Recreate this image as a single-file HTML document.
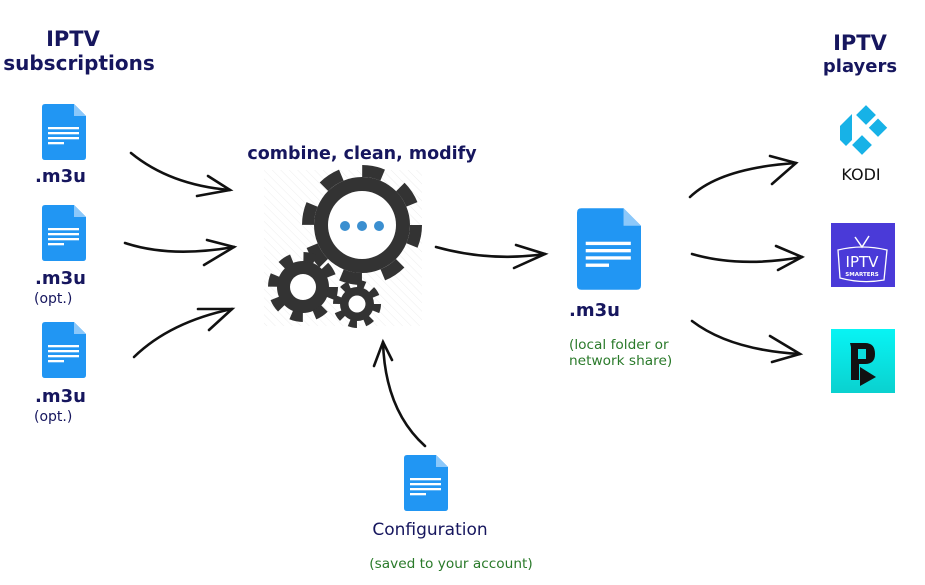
<!DOCTYPE html>
<html><head><meta charset="utf-8"><style>
body{margin:0;background:#fff;width:925px;height:585px;overflow:hidden}
svg{display:block}
.t{font-family:"DejaVu Sans",sans-serif;font-weight:bold;fill:#16165e}
.s{font-family:"DejaVu Sans",sans-serif;fill:#16165e;font-size:14px}
.g{font-family:"DejaVu Sans",sans-serif;fill:#2a7a2a;font-size:13.7px}
.ar{fill:none;stroke:#111;stroke-width:2.6;stroke-linecap:round}
</style></head><body>
<svg width="925" height="585" viewBox="0 0 925 585">
<defs>
<symbol id="doc" viewBox="0 0 44 56">
<path d="M3 0H32L44 12V53Q44 56 41 56H3Q0 56 0 53V3Q0 0 3 0Z" fill="#2196f3"/>
<path d="M32 0V12H44Z" fill="#8cc8fa"/>
<rect x="6" y="23" width="31" height="2.3" fill="#fff"/>
<rect x="6" y="28" width="31" height="2.3" fill="#fff"/>
<rect x="6" y="33" width="31" height="2.3" fill="#fff"/>
<rect x="6" y="38" width="16" height="2.3" fill="#fff"/>
</symbol>
<pattern id="hatch" width="6" height="6" patternUnits="userSpaceOnUse" patternTransform="rotate(-45)">
<line x1="0" y1="0" x2="0" y2="6" stroke="#eee" stroke-width="1"/></pattern>
<linearGradient id="cy" x1="0" y1="0" x2="0" y2="1"><stop offset="0" stop-color="#08f4f4"/><stop offset="1" stop-color="#0ad1cf"/></linearGradient>
</defs>

<text class="t" x="73" y="46" font-size="21" text-anchor="middle">IPTV</text>
<text class="t" x="79" y="70" font-size="20" text-anchor="middle">subscriptions</text>
<text class="t" x="860" y="50" font-size="21" text-anchor="middle">IPTV</text>
<text class="t" x="860" y="72" font-size="18" text-anchor="middle">players</text>

<use href="#doc" x="42" y="104" width="44" height="56"/>
<text class="t" x="35" y="182" font-size="18">.m3u</text>
<use href="#doc" x="42" y="205" width="44" height="56"/>
<text class="t" x="35" y="284" font-size="18">.m3u</text>
<text class="s" x="34" y="303">(opt.)</text>
<use href="#doc" x="42" y="322" width="44" height="56"/>
<text class="t" x="35" y="402" font-size="18">.m3u</text>
<text class="s" x="34" y="421">(opt.)</text>

<path class="ar" d="M131 153 Q170 185 230 190"/><path class="ar" d="M208 176 L230 190 L197 196"/>
<path class="ar" d="M125 243 Q170 258 234 247"/><path class="ar" d="M207 240 L234 247 L204 265"/>
<path class="ar" d="M134 357 Q170 322 232 309"/><path class="ar" d="M198 309 L232 309 L209 330"/>

<text class="t" x="362" y="159" font-size="17.5" text-anchor="middle">combine, clean, modify</text>
<rect x="264" y="170" width="158" height="156" fill="url(#hatch)"/>
<g fill="#333">
<circle cx="362" cy="225" r="48"/>
<circle cx="362" cy="225" r="54" fill="none" stroke="#333" stroke-width="12" stroke-dasharray="21 21.4"/>
<circle cx="303" cy="287" r="26"/>
<circle cx="303" cy="287" r="30" fill="none" stroke="#333" stroke-width="10" stroke-dasharray="11.8 11.8"/>
<circle cx="357" cy="304" r="17"/>
<circle cx="357" cy="304" r="20" fill="none" stroke="#333" stroke-width="8" stroke-dasharray="7.85 7.85"/>
</g>
<circle cx="362" cy="225" r="34" fill="#fff"/>
<circle cx="303" cy="287" r="13" fill="#fff"/>
<circle cx="357" cy="304" r="8.5" fill="#fff"/>
<circle cx="345" cy="226" r="5" fill="#3b8fd0"/><circle cx="362" cy="226" r="5" fill="#3b8fd0"/><circle cx="379" cy="226" r="5" fill="#3b8fd0"/>

<path class="ar" d="M436 247 Q490 262 545 254"/><path class="ar" d="M516 245 L545 254 L514 268"/>
<path class="ar" d="M425 446 Q385 410 383 342"/><path class="ar" d="M374 366 L383 342 L392 360"/>

<use href="#doc" x="577" y="208" width="64" height="82"/>
<text class="t" x="569" y="316" font-size="18">.m3u</text>
<text class="g" x="569" y="349">(local folder or</text>
<text class="g" x="569" y="365">network share)</text>

<use href="#doc" x="404" y="455" width="44" height="56"/>
<text x="430" y="535" text-anchor="middle" style="font-family:'DejaVu Sans',sans-serif;font-size:17px;fill:#16165e">Configuration</text>
<text class="g" x="451" y="568" text-anchor="middle">(saved to your account)</text>

<path class="ar" d="M690 197 Q720 168 796 163"/><path class="ar" d="M770 156 L796 163 L772 184"/>
<path class="ar" d="M692 254 Q740 268 802 257"/><path class="ar" d="M776 246 L802 257 L778 270"/>
<path class="ar" d="M692 321 Q730 350 800 354"/><path class="ar" d="M770 336 L800 354 L772 362"/>

<g fill="#17b2e7">
<polygon points="846,120 852,114 852,140 846,146 840,140 840,126"/>
<rect x="859" y="108" width="14" height="14" transform="rotate(45 866 115)"/>
<rect x="872" y="121" width="13" height="13" transform="rotate(45 878 127)"/>
<rect x="855" y="138" width="14" height="14" transform="rotate(45 862 145)"/>
</g>
<text x="861" y="180" text-anchor="middle" style="font-family:'DejaVu Sans',sans-serif;font-size:16px;fill:#111">KODI</text>
<rect x="831" y="223" width="64" height="64" fill="#4a3ad8"/>
<path d="M855 237 L862 247 L869 236" stroke="#fff" stroke-width="1.5" fill="none"/>
<path d="M838 250 Q862 244 887 250 L884 280 Q862 284 840 278Z" fill="none" stroke="#fff" stroke-width="1.3"/>
<text x="862" y="267" text-anchor="middle" style="font-family:'DejaVu Sans',sans-serif;font-size:15px;fill:#fff">IPTV</text>
<text x="862" y="276" text-anchor="middle" style="font-family:'DejaVu Sans',sans-serif;font-size:5.5px;font-weight:bold;fill:#fff">SMARTERS</text>
<rect x="831" y="329" width="64" height="64" fill="url(#cy)"/>
<path d="M850 343 H865 Q875 343 875 354 Q875 364 865 364 H859 V380 H851 V347 Z" fill="#111"/>
<rect x="858" y="349" width="8" height="10" fill="#0cdede"/>
<polygon points="860,367 876,377 860,386" fill="#111"/>
</svg>
</body></html>
